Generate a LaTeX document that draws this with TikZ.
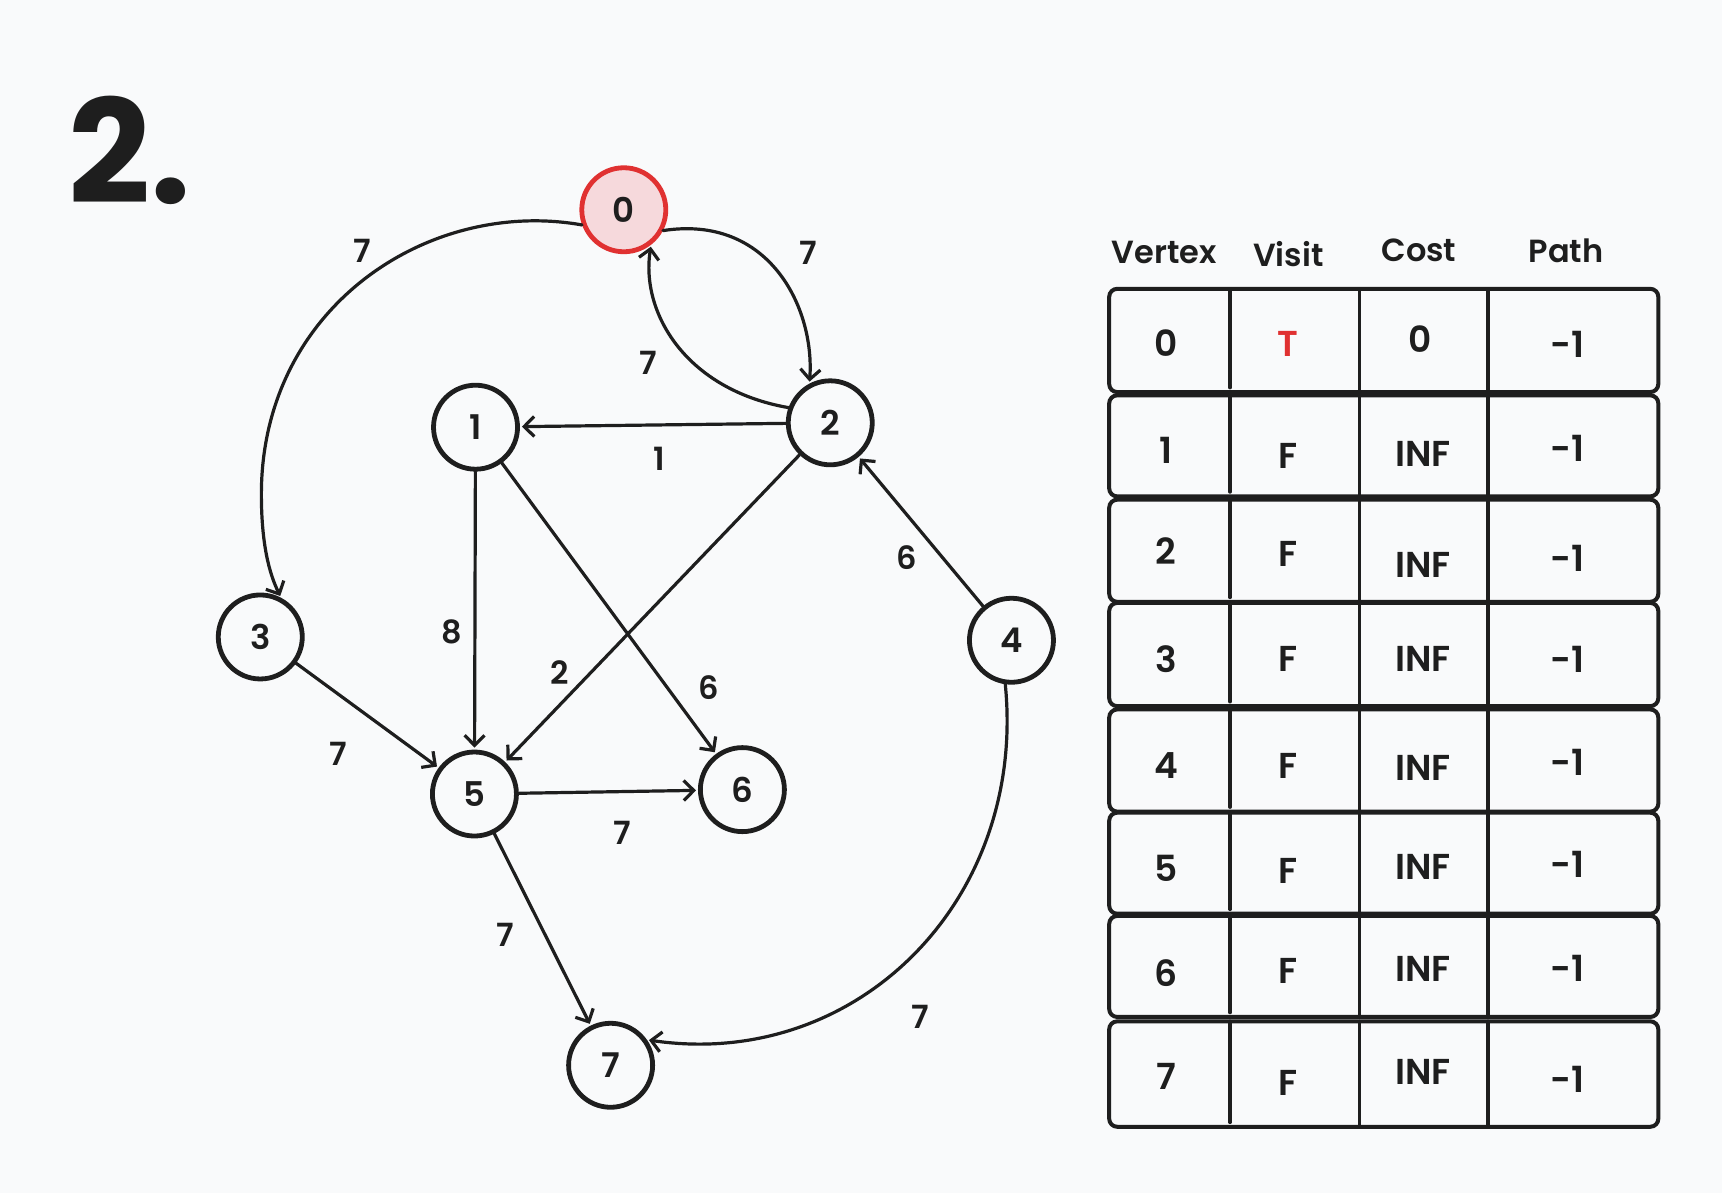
\documentclass[tikz,border=0pt]{standalone}
\usepackage{fontspec}
\setmainfont{Poppins}[UprightFont=* SemiBold,BoldFont=* Bold]
\usetikzlibrary{arrows.meta}
\definecolor{bg}{RGB}{249,250,251}
\definecolor{ink}{RGB}{30,30,30}
\definecolor{exred}{RGB}{224,49,49}
\definecolor{expink}{RGB}{246,217,220}
\begin{document}
\begin{tikzpicture}[x=0.549pt,y=-0.549pt,
  vtx/.style={circle,draw=ink,line width=2.4pt,minimum size=42pt,inner sep=0pt,font=\fontsize{17}{20}\selectfont,text=ink},
  src/.style={vtx,draw=exred,fill=expink},
  edge/.style={draw=ink,line width=1.6pt,line cap=round,-{Straight Barb[length=5pt,width=10pt,line width=1.6pt]},shorten >=1pt},
  wlabel/.style={font=\fontsize{16}{19}\selectfont,text=ink,inner sep=0pt},
  hdr/.style={font=\fontsize{16}{19}\selectfont,text=ink,inner sep=0pt},
  cell/.style={font=\fontsize{18}{21}\selectfont,text=ink,inner sep=0pt},
  rowbox/.style={draw=ink,line width=2pt,rounded corners=4pt},
  divider/.style={draw=ink,line width=1.7pt,line cap=round}]
\useasboundingbox (0,0) rectangle (1568,1086);
\fill[bg] (0,0) rectangle (1568,1086);

% title
\node[font=\fontsize{72}{80}\selectfont\bfseries,text=ink,anchor=base west,inner sep=0pt] (title) at (62,185) {2.};

% vertices
\node[src] (n0) at (568,191) {0};
\node[vtx] (n1) at (433,389) {1};
\node[vtx] (n2) at (756,385) {2};
\node[vtx] (n3) at (237,580) {3};
\node[vtx] (n4) at (921,583) {4};
\node[vtx] (n5) at (432,723) {5};
\node[vtx] (n6) at (676,719) {6};
\node[vtx] (n7) at (556,970) {7};

% curved edges
\draw[edge] (n0.200) .. controls (390,180) and (238,280) .. (238,450) .. controls (238,495) and (245,522) .. (n3.62);
\draw[edge] (n0.-28) .. controls (700,195) and (742,280) .. (n2.118);
\draw[edge] (n2.160) .. controls (625,355) and (583,285) .. (n0.-52);
\draw[edge] (n4.-98) .. controls (935,820) and (780,975) .. (n7.35);

% straight edges
\draw[edge] (n2) -- (n1);
\draw[edge] (n2) -- (n5);
\draw[edge] (n1) -- (n5);
\draw[edge] (n1) -- (n6);
\draw[edge] (n3) -- (n5);
\draw[edge] (n5) -- (n6);
\draw[edge] (n5) -- (n7);
\draw[edge] (n4) -- (n2);

% edge weights
\node[wlabel] (l03) at (330,228) {7};
\node[wlabel] (l02) at (736,230) {7};
\node[wlabel] (l20) at (590,330) {7};
\node[wlabel] (l21) at (600,418) {1};
\node[wlabel] (l25) at (510,612) {2};
\node[wlabel] (l15) at (411,575) {8};
\node[wlabel] (l16) at (645,626) {6};
\node[wlabel] (l35) at (308,686) {7};
\node[wlabel] (l56) at (567,758) {7};
\node[wlabel] (l57) at (460,851) {7};
\node[wlabel] (l42) at (826,508) {6};
\node[wlabel] (l47) at (838,926) {7};

% table headers
\node[hdr] (hv) at (1060,230) {Vertex};
\node[hdr] (hvi) at (1173,231) {Visit};
\node[hdr] (hc) at (1292,228) {Cost};
\node[hdr] (hp) at (1426,228) {Path};

% table rows
\foreach \t/\b in {263/357,360/452,455/548,549/643,646/739,740/832,834/926,930/1026} {
  \draw[rowbox] (1010,\t) rectangle (1510,\b);
  \draw[divider] (1120,\t) -- (1120,\b-4);
  \draw[divider] (1238,\t) -- (1238,\b);
  \draw[divider] (1355,\t) -- (1355,\b);
}

% cells
\node[cell] (c00) at (1062,312) {0};
\node[cell,text=exred] (c01) at (1173,313) {T};
\node[cell] (c02) at (1293,309) {0};
\node[cell] (c03) at (1427,314) {-1};

\node[cell] (c10) at (1062,410) {1};
\node[cell] (c11) at (1173,415) {F};
\node[cell] (c12) at (1296,413) {INF};
\node[cell] (c13) at (1427,408) {-1};

\node[cell] (c20) at (1062,502) {2};
\node[cell] (c21) at (1173,504) {F};
\node[cell] (c22) at (1296,514) {INF};
\node[cell] (c23) at (1427,508) {-1};

\node[cell] (c30) at (1062,600) {3};
\node[cell] (c31) at (1173,600) {F};
\node[cell] (c32) at (1296,600) {INF};
\node[cell] (c33) at (1427,600) {-1};

\node[cell] (c40) at (1062,697) {4};
\node[cell] (c41) at (1173,697) {F};
\node[cell] (c42) at (1296,699) {INF};
\node[cell] (c43) at (1427,694) {-1};

\node[cell] (c50) at (1062,791) {5};
\node[cell] (c51) at (1173,793) {F};
\node[cell] (c52) at (1296,789) {INF};
\node[cell] (c53) at (1427,787) {-1};

\node[cell] (c60) at (1062,886) {6};
\node[cell] (c61) at (1173,884) {F};
\node[cell] (c62) at (1296,882) {INF};
\node[cell] (c63) at (1427,882) {-1};

\node[cell] (c70) at (1062,980) {7};
\node[cell] (c71) at (1173,986) {F};
\node[cell] (c72) at (1296,976) {INF};
\node[cell] (c73) at (1427,983) {-1};
\end{tikzpicture}
\end{document}
